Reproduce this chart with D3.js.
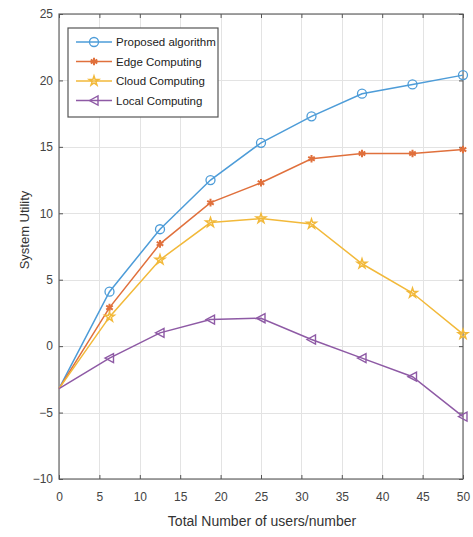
<!DOCTYPE html>
<meta charset="utf-8">
<style>
body { margin: 0; background: #fff; overflow: hidden; }
svg { display: block; }
svg text { font-family: "Liberation Sans Narrow", "Liberation Sans", Arial, sans-serif; fill: #444; }
g.tick line { stroke: #555; }
g.grid line { stroke: #e3e3e3; shape-rendering: crispEdges; }
g.grid path { stroke: none; }
</style>
<body>
<div id="chart"></div>
<script src="https://cdnjs.cloudflare.com/ajax/libs/d3/7.8.5/d3.min.js"></script>
<script>
// users on the x axis
var users = [0, 6.25, 12.5, 18.75, 25, 31.25, 37.5, 43.75, 50];

var proposed = [-3.2, 4.1, 8.8, 12.5, 15.3, 17.3, 19.0, 19.7, 20.4];
var edge     = [-3.2, 2.9, 7.7, 10.8, 12.3, 14.1, 14.5, 14.5, 14.8];
var cloud    = [-3.2, 2.2, 6.5, 9.3, 9.6, 9.2, 6.2, 4.0, 0.9];
var local    = [-3.2, -0.9, 1.0, 2.0, 2.1, 0.5, -0.9, -2.3, -5.3];

var seriesNames = ["Proposed algorithm", "Edge Computing", "Cloud Computing", "Local Computing"];
var xTicks = [0, 5, 10, 15, 20, 25, 30, 35, 40, 45, 50];
var yTicks = [-10, -5, 0, 5, 10, 15, 20, 25];

var colors = ["#4d9cd8", "#e0703c", "#f2b93a", "#8e5aa5"];
var symbols = ["circle", "asterisk", "star", "tri"];

var outerWidth = 473, outerHeight = 537;
var margin = {top: 14, right: 10, bottom: 58, left: 59};
var innerWidth = 463 - margin.left;
var innerHeight = 479 - margin.top;

var svg = d3.select("#chart").append("svg")
    .attr("width", outerWidth)
    .attr("height", outerHeight);

var g = svg.append("g").attr("transform", "translate(" + margin.left + "," + margin.top + ")");

var x = d3.scaleLinear().domain([0, 50]).range([0, innerWidth]);
var y = d3.scaleLinear().domain([-10, 25]).range([innerHeight, 0]);

// gridlines
g.append("g").attr("class", "grid")
  .attr("transform", "translate(0," + innerHeight + ")")
  .call(d3.axisBottom(x).tickValues(xTicks).tickSize(-innerHeight).tickFormat(""));
g.append("g").attr("class", "grid")
  .call(d3.axisLeft(y).tickValues(yTicks).tickSize(-innerWidth).tickFormat(""));

// box
g.append("rect").attr("width", innerWidth).attr("height", innerHeight)
  .attr("fill", "none").attr("stroke", "#666").attr("stroke-width", 1.2);

// axes, ticks pointing inward
var xAxis = g.append("g").attr("transform", "translate(0," + innerHeight + ")")
  .call(d3.axisBottom(x).tickValues(xTicks).tickSizeInner(-4).tickSizeOuter(0).tickPadding(13));
var xTop = g.append("g")
  .call(d3.axisTop(x).tickValues(xTicks).tickSizeInner(-4).tickSizeOuter(0).tickFormat(""));
var yAxis = g.append("g")
  .call(d3.axisLeft(y).tickValues(yTicks).tickSizeInner(-4).tickSizeOuter(0).tickPadding(6));
var yRight = g.append("g").attr("transform", "translate(" + innerWidth + ",0)")
  .call(d3.axisRight(y).tickValues(yTicks).tickSizeInner(-4).tickSizeOuter(0).tickFormat(""));
[xAxis, xTop, yAxis, yRight].forEach(function (a) {
  a.select(".domain").remove();
  a.selectAll("text").style("font-size", "12px");
});
// drop the empty labels of the unlabeled axes
g.selectAll(".grid text").remove();
xTop.selectAll("text").remove();
yRight.selectAll("text").remove();

// axis labels
svg.append("text")
  .attr("x", 262).attr("y", 526)
  .attr("text-anchor", "middle")
  .style("font-size", "14px").style("fill", "#333")
  .text("Total Number of users/number");
svg.append("text")
  .attr("transform", "translate(29,230) rotate(-90)")
  .attr("text-anchor", "middle")
  .style("font-size", "13px").style("fill", "#333")
  .text("System Utility");

function drawMarker(sel, type, color) {
  if (type === "circle") {
    sel.append("circle").attr("r", 4.5).attr("fill", "none").attr("stroke", color).attr("stroke-width", 1.3);
  } else if (type === "asterisk") {
    sel.append("path").attr("d", d3.symbol().type(d3.symbolAsterisk).size(40)).attr("fill", "none").attr("stroke", color).attr("stroke-width", 2);
  } else if (type === "star") {
    sel.append("path").attr("d", d3.symbol().type(d3.symbolStar).size(28)).attr("fill", "none").attr("stroke", color).attr("stroke-width", 1.5);
  } else {
    sel.append("path").attr("d", "M-4.5,0L4,-4.5L4,4.5Z").attr("fill", "none").attr("stroke", color).attr("stroke-width", 1.4);
  }
}

var allSeries = [proposed, edge, cloud, local];
var line = d3.line().x(function (d) { return x(d[0]); }).y(function (d) { return y(d[1]); });

allSeries.forEach(function (vals, i) {
  var pts = users.map(function (u, k) { return [u, vals[k]]; });
  g.append("path").datum(pts)
    .attr("d", line)
    .attr("fill", "none")
    .attr("stroke", colors[i])
    .attr("stroke-width", 1.5);
  g.selectAll(".m" + i).data(pts.slice(1)).enter().append("g")
    .attr("class", "m" + i)
    .attr("transform", function (d) { return "translate(" + x(d[0]) + "," + y(d[1]) + ")"; })
    .each(function () { drawMarker(d3.select(this), symbols[i], colors[i]); });
});

// legend
var legend = svg.append("g").attr("transform", "translate(68,28)");
legend.append("rect").attr("width", 150).attr("height", 89)
  .attr("fill", "#fff").attr("stroke", "#555").attr("stroke-width", 1.2);
seriesNames.forEach(function (name, i) {
  var ly = 14 + i * 19.5;
  legend.append("line").attr("x1", 8).attr("x2", 44).attr("y1", ly).attr("y2", ly)
    .attr("stroke", colors[i]).attr("stroke-width", 1.5);
  var mk = legend.append("g").attr("transform", "translate(26," + ly + ")");
  drawMarker(mk, symbols[i], colors[i]);
  legend.append("text").attr("x", 48).attr("y", ly + 4)
    .style("font-size", "11.5px").style("fill", "#222")
    .text(name);
});
</script>
</body>
